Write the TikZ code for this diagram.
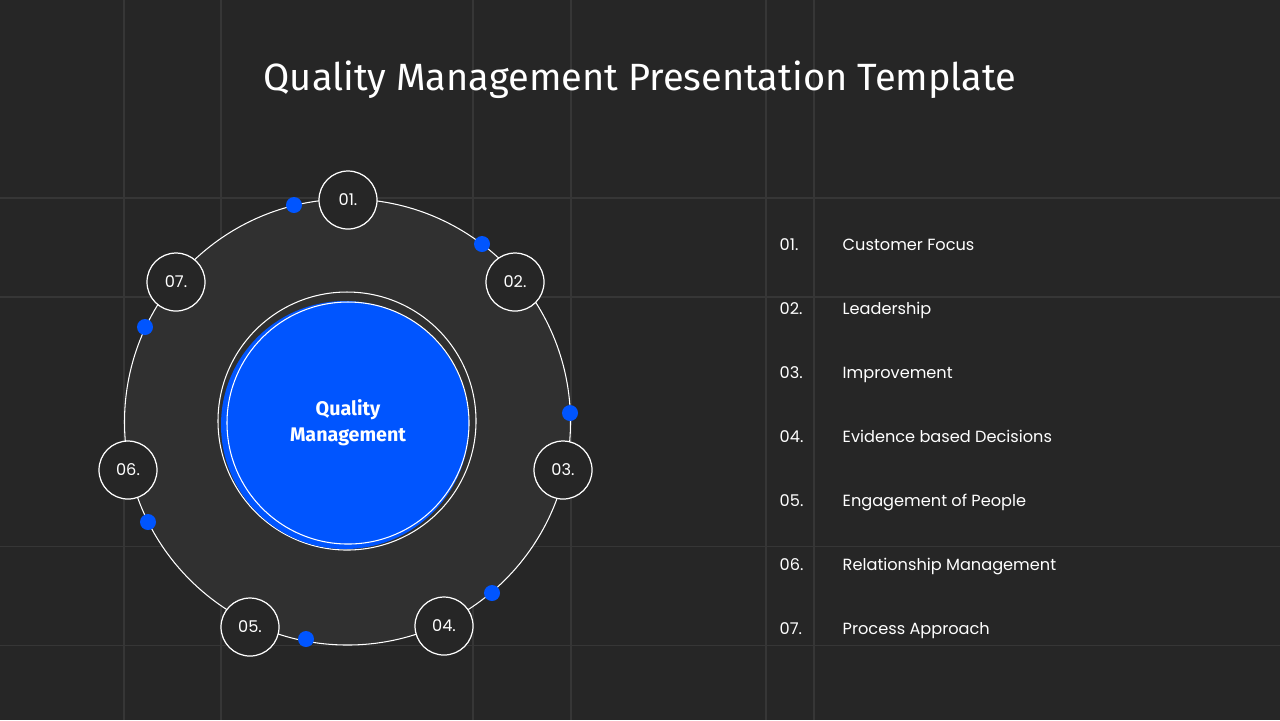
\documentclass[tikz,border=0pt]{standalone}
\usepackage{fontspec}
\setmainfont{Poppins}
\newfontfamily\titlefont{Fira Sans}
\definecolor{bgdark}{HTML}{262626}
\definecolor{ringfill}{HTML}{303030}
\definecolor{gridline}{HTML}{363636}
\definecolor{qmblue}{HTML}{0055FF}
\begin{document}
\begin{tikzpicture}
		[x=0.01cm,y=-0.01cm,
		stepcircle/.style={circle,draw=white,line width=0.35pt,fill=bgdark,minimum size=58*0.01cm,inner sep=0pt,text=white,font=\fontsize{4.6}{5}\selectfont},
		bluedot/.style={circle,fill=qmblue,minimum size=16*0.01cm,inner sep=0pt},
		listnum/.style={anchor=west,inner sep=0pt,text height=1.3ex,text depth=0.3ex,text=white,font=\fontsize{4.6}{5}\selectfont},
		listtext/.style={anchor=west,inner sep=0pt,text height=1.3ex,text depth=0.3ex,text=white,font=\fontsize{4.6}{5}\selectfont}]
		
		\fill[bgdark] (0,0) rectangle (1280,720);
		\useasboundingbox (0,0) rectangle (1280,720);
		
		% grid
		\foreach \gx in {124,221,473,571,766,814}
		\draw[gridline,line width=0.3pt] (\gx,0) -- (\gx,720);
		\foreach \gy in {198,297,546,645}
		\draw[gridline,line width=0.3pt] (0,\gy) -- (1280,\gy);
		
		\node[text=white,font=\titlefont\fontsize{10.8}{12}\selectfont] (title) at (640,80) {Quality Management Presentation Template};
		
		% ring
		\node[circle,draw=white,line width=0.3pt,fill=ringfill,minimum size=446*0.01cm,inner sep=0pt] (ring) at (347.5,422) {};
		\node[circle,draw=white,line width=0.3pt,minimum size=258*0.01cm,inner sep=0pt] (outer) at (347,421) {};
		\node[circle,fill=qmblue,minimum size=248*0.01cm,inner sep=0pt] (core) at (345,425) {};
		\node[circle,draw=white,line width=0.3pt,minimum size=242*0.01cm,inner sep=0pt,align=center,text=white,
		font=\titlefont\bfseries\fontsize{5.6}{7.4}\selectfont] (centre) at (348,423) {Quality\\Management};
		
		\node[stepcircle] (s1) at (348,200) {01.};
		\node[stepcircle] (s2) at (515,282) {02.};
		\node[stepcircle] (s3) at (563,470) {03.};
		\node[stepcircle] (s4) at (444,626) {04.};
		\node[stepcircle] (s5) at (250,627) {05.};
		\node[stepcircle] (s6) at (128,470) {06.};
		\node[stepcircle] (s7) at (176,282) {07.};
		
		\node[bluedot] (d1) at (294,205) {};
		\node[bluedot] (d2) at (482,244) {};
		\node[bluedot] (d3) at (570,413) {};
		\node[bluedot] (d4) at (492,593) {};
		\node[bluedot] (d5) at (306,639) {};
		\node[bluedot] (d6) at (148,522) {};
		\node[bluedot] (d7) at (145,327) {};
		
		% list
		\foreach \n/\lbl [count=\i from 0] in {01./Customer Focus,02./Leadership,03./Improvement,04./Evidence based Decisions,05./Engagement of People,06./Relationship Management,07./Process Approach}{
			\node[listnum] (n\i) at (779,241+64*\i) {\n};
			\node[listtext] (t\i) at (842,241+64*\i) {\lbl};
		}
		
	\end{tikzpicture}
\end{document}
